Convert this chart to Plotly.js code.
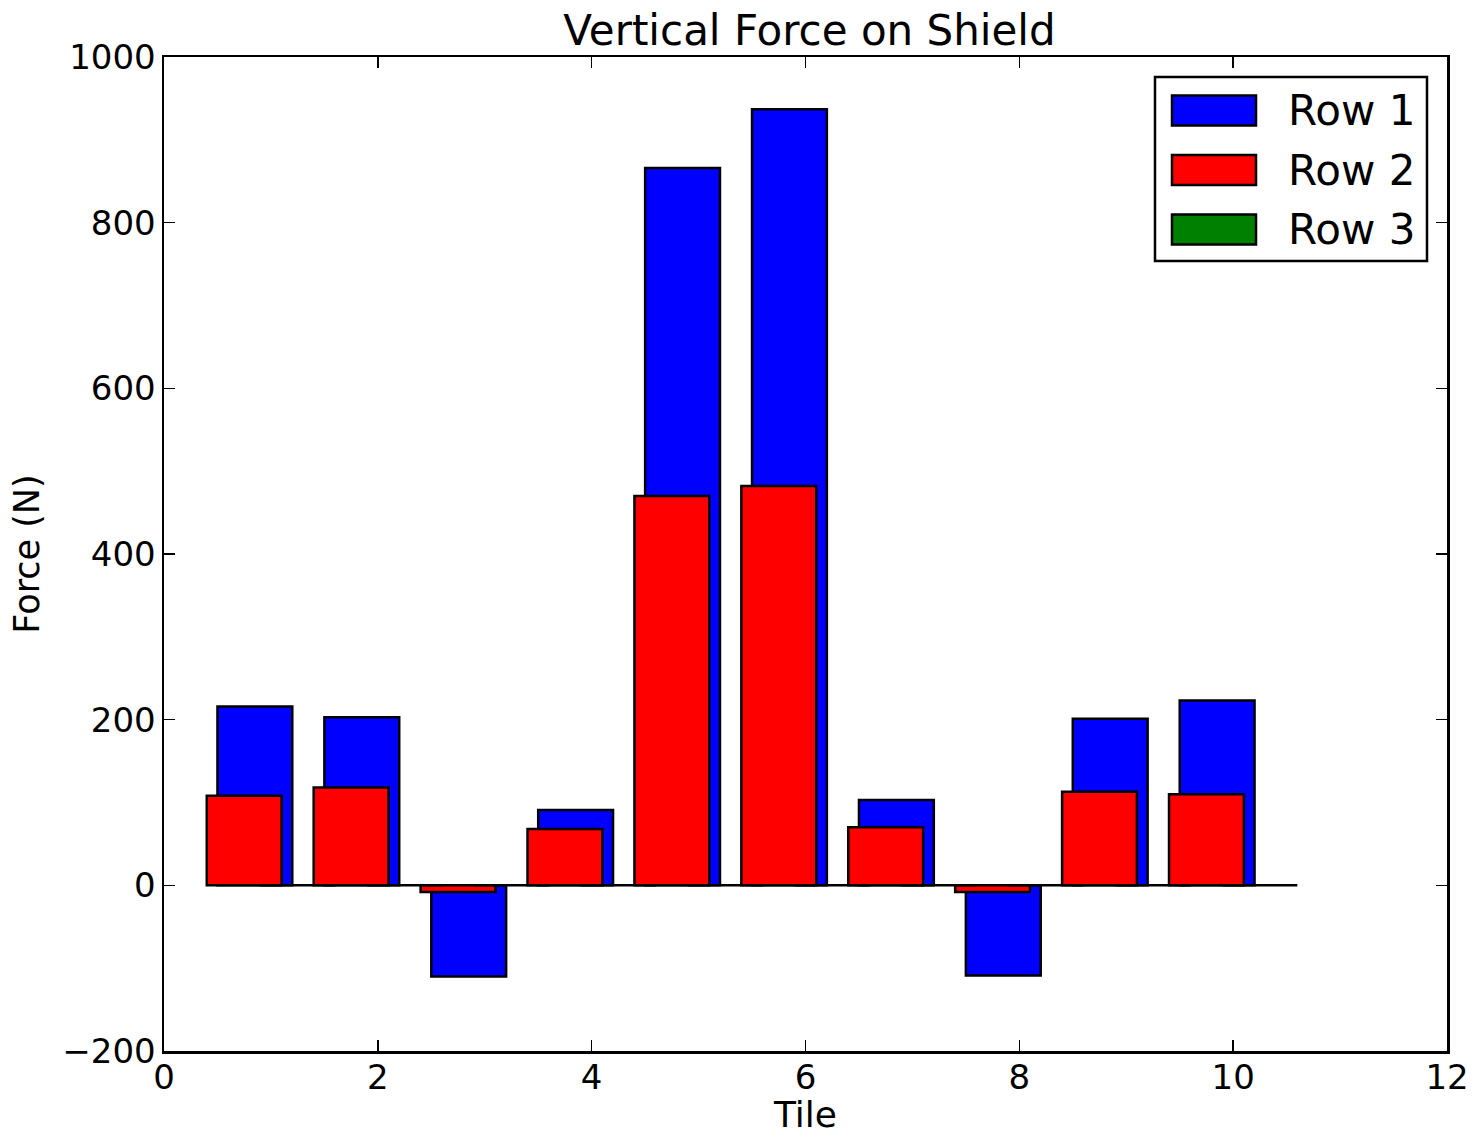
<!DOCTYPE html>
<html>
<head>
<meta charset="utf-8">
<script src="https://cdn.plot.ly/plotly-3.0.1.min.js"></script>
<style>html,body{margin:0;padding:0;background:#fff;}#chart{width:1480px;height:1135px;}</style>
</head>
<body>
<div id="chart"></div>
<script>
// ---- data ----
const tiles = [1, 2, 3, 4, 5, 6, 7, 8, 9, 10];
const row1 = [216, 203, -110, 91, 866, 937, 103, -109, 201, 223];
const row2 = [108, 118, -8, 68, 470, 482, 70, -8, 113, 110];
const row3 = [0, 0, 0, 0, 0, 0, 0, 0, 0, 0];
const seriesNames = ['Row 1', 'Row 2', 'Row 3'];
const xTicks = [0, 2, 4, 6, 8, 10, 12];
const yTicks = [-200, 0, 200, 400, 600, 800, 1000];

// ---- styles ----
const colors = ['#0000ff', '#ff0000', '#008000'];
const offsets = [-0.5, -0.6, -0.1];
const barWidth = 0.7;
const FONT = 'DejaVu Sans, sans-serif';

const W = 1480, H = 1135;
const M = {l: 164, r: 33, t: 57, b: 84};
const pw = W - M.l - M.r, ph = H - M.t - M.b;
const px2x = p => (p - M.l) / pw;
const py2y = p => (H - M.b - p) / ph;

const seriesData = [row1, row2, row3];
const traces = seriesData.map((vals, i) => ({
  type: 'bar',
  name: seriesNames[i],
  x: tiles,
  y: vals,
  width: barWidth,
  offset: offsets[i],
  marker: {color: colors[i], line: {color: '#000000', width: 2.5}},
  showlegend: false,
  hoverinfo: 'x+y+name'
}));

// custom legend (matplotlib-like wide patches)
const shapes = [];
const annotations = [];
shapes.push({type: 'rect', xref: 'paper', yref: 'paper',
  x0: px2x(1155), x1: px2x(1427), y0: py2y(261), y1: py2y(77),
  line: {color: '#000', width: 2.5}, fillcolor: '#fff', layer: 'above'});
seriesNames.forEach((nm, i) => {
  const cy = 110.5 + i * 59.5;
  shapes.push({type: 'rect', xref: 'paper', yref: 'paper',
    x0: px2x(1172), x1: px2x(1256), y0: py2y(cy + 15), y1: py2y(cy - 15),
    line: {color: '#000', width: 2.5}, fillcolor: colors[i], layer: 'above'});
  annotations.push({xref: 'paper', yref: 'paper', x: px2x(1286), y: py2y(cy),
    xanchor: 'left', yanchor: 'middle', text: nm, showarrow: false,
    font: {family: FONT, size: 42, color: '#000'}});
});

const axisCommon = {
  showline: true, linecolor: '#000', linewidth: 2.5, mirror: 'ticks',
  ticks: 'inside', ticklen: 11, tickwidth: 1.5, tickcolor: '#000',
  showgrid: false, zeroline: false,
  tickfont: {family: FONT, size: 34, color: '#000'}
};

const layout = {
  width: W, height: H,
  margin: M,
  paper_bgcolor: '#fff', plot_bgcolor: '#fff',
  barmode: 'overlay',
  font: {family: FONT, color: '#000'},
  title: {text: 'Vertical Force on Shield', font: {family: FONT, size: 42, color: '#000'},
    x: (M.l + pw / 2 + 4) / W, xanchor: 'center', y: 1 - 30 / H, yanchor: 'middle'},
  xaxis: Object.assign({}, axisCommon, {
    range: [0, 12], tickmode: 'array', tickvals: xTicks, ticktext: xTicks.map(String),
    ticklabelstandoff: -5,
    title: {text: 'Tile', font: {family: FONT, size: 36, color: '#000'}, standoff: 4}
  }),
  yaxis: Object.assign({}, axisCommon, {
    range: [-200, 1000], tickmode: 'array', tickvals: yTicks,
    ticktext: yTicks.map(v => v < 0 ? '\u2212' + Math.abs(v) : String(v)),
    ticklabelstandoff: -1,
    title: {text: 'Force (N)', font: {family: FONT, size: 35, color: '#000'}, standoff: 12}
  }),
  shapes: shapes,
  annotations: annotations
};

Plotly.newPlot('chart', traces, layout, {displayModeBar: false, staticPlot: true});
</script>
</body>
</html>
